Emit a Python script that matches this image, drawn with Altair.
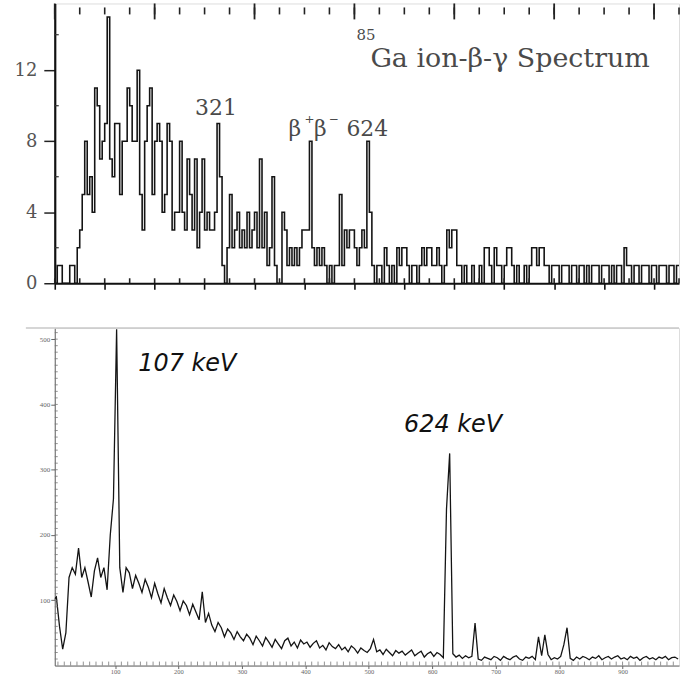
import altair as alt
import pandas as pd

# ---------------- top panel: 85Ga ion-beta-gamma histogram (5 keV bins from 0 keV)
top_bin_keV = 5
top_counts = [
    0, 1, 1, 0, 0, 0, 1, 1, 0, 2,        # 0-50
    3, 5, 8, 5, 6, 4, 11, 10, 7, 8,      # 50-100
    9, 15, 7, 6, 9, 9, 5, 8, 8, 11,      # 100-150
    10, 8, 8, 12, 5, 3, 8, 10, 11, 5,    # 150-200
    8, 9, 8, 4, 5, 9, 8, 3, 4, 4,        # 200-250
    8, 4, 3, 7, 5, 3, 7, 2, 4, 7,        # 250-300
    3, 4, 3, 3, 4, 9, 6, 1, 0, 2,        # 300-350
    5, 2, 3, 4, 2, 3, 2, 4, 2, 3,        # 350-400
    4, 2, 7, 2, 4, 1, 2, 6, 1, 0,        # 400-450
    0, 4, 3, 1, 2, 1, 2, 1, 2, 3,        # 450-500
    3, 3, 8, 2, 1, 2, 1, 2, 1, 0,        # 500-550
    1, 0, 1, 1, 5, 1, 3, 2, 3, 3,        # 550-600
    2, 1, 2, 3, 2, 8, 4, 1, 0, 1,        # 600-650
    1, 0, 2, 1, 0, 1, 0, 2, 1, 2,        # 650-700
    2, 1, 0, 1, 1, 0, 1, 2, 1, 2,        # 700-750
    2, 1, 1, 2, 1, 0, 1, 3, 2, 3,        # 750-800
    3, 1, 1, 0, 1, 0, 0, 1, 0, 0,        # 800-850
    1, 0, 2, 2, 1, 0, 2, 1, 1, 0,        # 850-900
    1, 2, 2, 1, 0, 1, 0, 0, 1, 0,        # 900-950
    1, 2, 2, 1, 2, 2, 1, 1, 0, 1,        # 950-1000
    1, 1, 0, 1, 1, 1, 0, 1, 1, 0,        # 1000-1050
    1, 1, 0, 1, 0, 1, 1, 1, 0, 1,        # 1050-1100
    1, 1, 0, 1, 0, 1, 1, 0, 2, 1,        # 1100-1150
    1, 0, 1, 1, 0, 1, 1, 1, 0, 1,        # 1150-1200
    1, 0, 1, 1, 1, 0, 1, 1, 0, 1,        # 1200-1250
]
top_y_ticks = [0, 4, 8, 12]
top_y_minor = [2, 6, 10, 14]
top_x_ticks = list(range(0, 1251, 50))
top_x_major = list(range(0, 1251, 200))

# ---------------- bottom panel: gamma spectrum (5 keV channels from 0 keV)
bot_bin_keV = 5
bot_counts = [
    100, 105, 60, 25, 50, 135, 150, 140, 180, 135,     # 0-50
    150, 128, 105, 145, 165, 135, 150, 116, 200, 255,  # 50-100
    515, 150, 112, 150, 142, 118, 138, 126, 112, 132,  # 100-150
    120, 104, 126, 110, 96, 118, 104, 92, 108, 98,     # 150-200
    84, 99, 92, 78, 94, 82, 70, 113, 66, 80,           # 200-250
    62, 52, 66, 58, 44, 56, 50, 40, 52, 44,            # 250-300
    38, 48, 42, 32, 45, 38, 30, 43, 36, 28,            # 300-350
    40, 33, 26, 38, 42, 30, 36, 27, 39, 33,            # 350-400
    36, 28, 34, 38, 27, 31, 24, 35, 29, 26,            # 400-450
    32, 24, 28, 21, 30, 26, 19, 27, 23, 20,            # 450-500
    26, 40, 21, 24, 17, 25, 20, 15, 23, 19,            # 500-550
    22, 16, 20, 24, 15, 19, 22, 13, 18, 21,            # 550-600
    14, 20, 17, 12, 240, 325, 18, 13, 16, 11,          # 600-650
    15, 12, 14, 65, 10, 8, 13, 11, 9, 14,              # 650-700
    12, 8, 14, 11, 9, 13, 15, 10, 8, 13,               # 700-750
    11, 14, 9, 44, 15, 47, 17, 9, 12, 10,              # 750-800
    14, 32, 58, 11, 8, 13, 10, 14, 12, 9,              # 800-850
    13, 11, 15, 9, 12, 14, 10, 13, 15, 10,             # 850-900
    12, 9, 14, 11, 13, 8, 12, 14, 10, 12,              # 900-950
    9, 13, 11, 14, 9, 12, 13, 10,                      # 950-990
]
bot_x_labels = [100, 200, 300, 400, 500, 600, 700, 800, 900]
bot_y_labels = [100, 200, 300, 400, 500]
bot_x_minor = list(range(10, 990, 10))
bot_y_minor = list(range(10, 520, 10))

TOP_W, TOP_H = 627, 281
BOT_W, BOT_H = 627, 339

top_df = pd.DataFrame({
    "keV": [i * top_bin_keV for i in range(len(top_counts))] + [len(top_counts) * top_bin_keV],
    "counts": top_counts + [top_counts[-1]],
})
bot_df = pd.DataFrame({
    "keV": [i * bot_bin_keV + bot_bin_keV / 2 for i in range(len(bot_counts))],
    "counts": bot_counts,
})

top_x = alt.Scale(domain=[0, 1250], nice=False, zero=False)
top_y = alt.Scale(domain=[0, 15.76], nice=False)

top_hist = alt.Chart(top_df).mark_line(
    interpolate="step-after", color="#141414", strokeWidth=1.6, clip=True
).encode(
    x=alt.X("keV:Q", scale=top_x, axis=alt.Axis(
        values=top_x_ticks, labels=False, tickSize=6, tickWidth=1.6, tickColor="#111",
        domainWidth=2.2, domainColor="#111", grid=False, title=None)),
    y=alt.Y("counts:Q", scale=top_y, axis=alt.Axis(
        values=top_y_ticks, tickSize=11, tickWidth=1.5, tickColor="#222",
        labelPadding=7, labelFont="DejaVu Serif", labelFontSize=18, labelColor="#555",
        domainWidth=2.2, domainColor="#111", grid=False, title=None)),
)

top_tick_df = pd.DataFrame({"keV": top_x_ticks})
top_major_df = pd.DataFrame({"keV": top_x_major})
top_ticks_top = alt.Chart(top_tick_df).mark_rule(color="#222", strokeWidth=1.6).encode(
    x=alt.X("keV:Q", scale=top_x), y=alt.value(4), y2=alt.value(11))
top_ticks_top_major = alt.Chart(top_major_df).mark_rule(color="#222", strokeWidth=1.8).encode(
    x=alt.X("keV:Q", scale=top_x), y=alt.value(0), y2=alt.value(16))
top_ticks_bottom_in = alt.Chart(top_tick_df).mark_rule(color="#222", strokeWidth=1.6).encode(
    x=alt.X("keV:Q", scale=top_x), y=alt.value(TOP_H - 5), y2=alt.value(TOP_H))
top_y_minor_rules = alt.Chart(pd.DataFrame({"v": top_y_minor})).mark_rule(
    color="#333", strokeWidth=1.2).encode(
    y=alt.Y("v:Q", scale=top_y), x=alt.value(0), x2=alt.value(4))


def top_text(label, kev, val, size):
    return alt.Chart().mark_text(
        text=label, align="left", baseline="alphabetic", font="DejaVu Serif",
        fontSize=size, color="#4a4a4a"
    ).encode(x=alt.datum(kev, scale=top_x), y=alt.datum(val, scale=top_y))


top_labels = [
    top_text("321", 281, 9.48, 22),
    top_text("β", 468, 8.3, 22),
    top_text("+", 500, 9.0, 12),
    top_text("β", 519, 8.3, 22),
    top_text("−", 549, 9.0, 12),
    top_text("624", 584, 8.3, 22),
    top_text("85", 604, 13.68, 15),
    top_text("Ga ion-β-γ Spectrum", 632, 12.17, 27),
]

top = alt.layer(
    top_hist, top_ticks_top, top_ticks_top_major, top_ticks_bottom_in, top_y_minor_rules,
    *top_labels
).properties(width=TOP_W, height=TOP_H)

# ---------------- bottom panel
bot_x = alt.Scale(domain=[5, 989], nice=False, zero=False)
bot_y = alt.Scale(domain=[0, 517], nice=False)

bot_line = alt.Chart(bot_df).mark_line(
    interpolate="linear", color="#141414", strokeWidth=1.3, clip=True
).encode(
    x=alt.X("keV:Q", scale=bot_x, axis=alt.Axis(
        values=bot_x_labels, tickSize=3, tickColor="#666", labelPadding=0,
        labelFont="Liberation Serif", labelFontSize=6.5, labelColor="#666",
        domainColor="#666", domainWidth=1, grid=False, title=None)),
    y=alt.Y("counts:Q", scale=bot_y, axis=alt.Axis(
        values=bot_y_labels, tickSize=4, tickColor="#666", labelPadding=1,
        labelFont="Liberation Serif", labelFontSize=7, labelColor="#666",
        domainColor="#666", domainWidth=1, grid=False, title=None)),
)

bot_xminor = alt.Chart(pd.DataFrame({"keV": bot_x_minor})).mark_rule(
    color="#777", strokeWidth=0.8).encode(
    x=alt.X("keV:Q", scale=bot_x), y=alt.value(BOT_H - 4), y2=alt.value(BOT_H))
bot_yminor = alt.Chart(pd.DataFrame({"v": bot_y_minor})).mark_rule(
    color="#777", strokeWidth=0.8).encode(
    y=alt.Y("v:Q", scale=bot_y), x=alt.value(0), x2=alt.value(3))
bot_topline = alt.Chart().mark_rule(color="#c8c8c8", strokeWidth=1.5).encode(
    x=alt.value(-29), x2=alt.value(BOT_W), y=alt.value(0))


def bot_text(label, kev, val):
    return alt.Chart().mark_text(
        text=label, align="left", baseline="alphabetic", font="DejaVu Sans",
        fontStyle="italic", fontSize=24, color="#111"
    ).encode(x=alt.datum(kev, scale=bot_x), y=alt.datum(val, scale=bot_y))


bottom = alt.layer(
    bot_line, bot_xminor, bot_yminor, bot_topline,
    bot_text("107 keV", 136.6, 451),
    bot_text("624 keV", 555.7, 357),
).properties(width=BOT_W, height=BOT_H)

chart = alt.vconcat(top, bottom, spacing=33).properties(
    padding={"left": 13, "top": 0, "right": 0, "bottom": 0}
).configure_view(stroke=None).configure(background="white")

chart.save("out.html", embed_options={"renderer": "svg", "actions": False})
